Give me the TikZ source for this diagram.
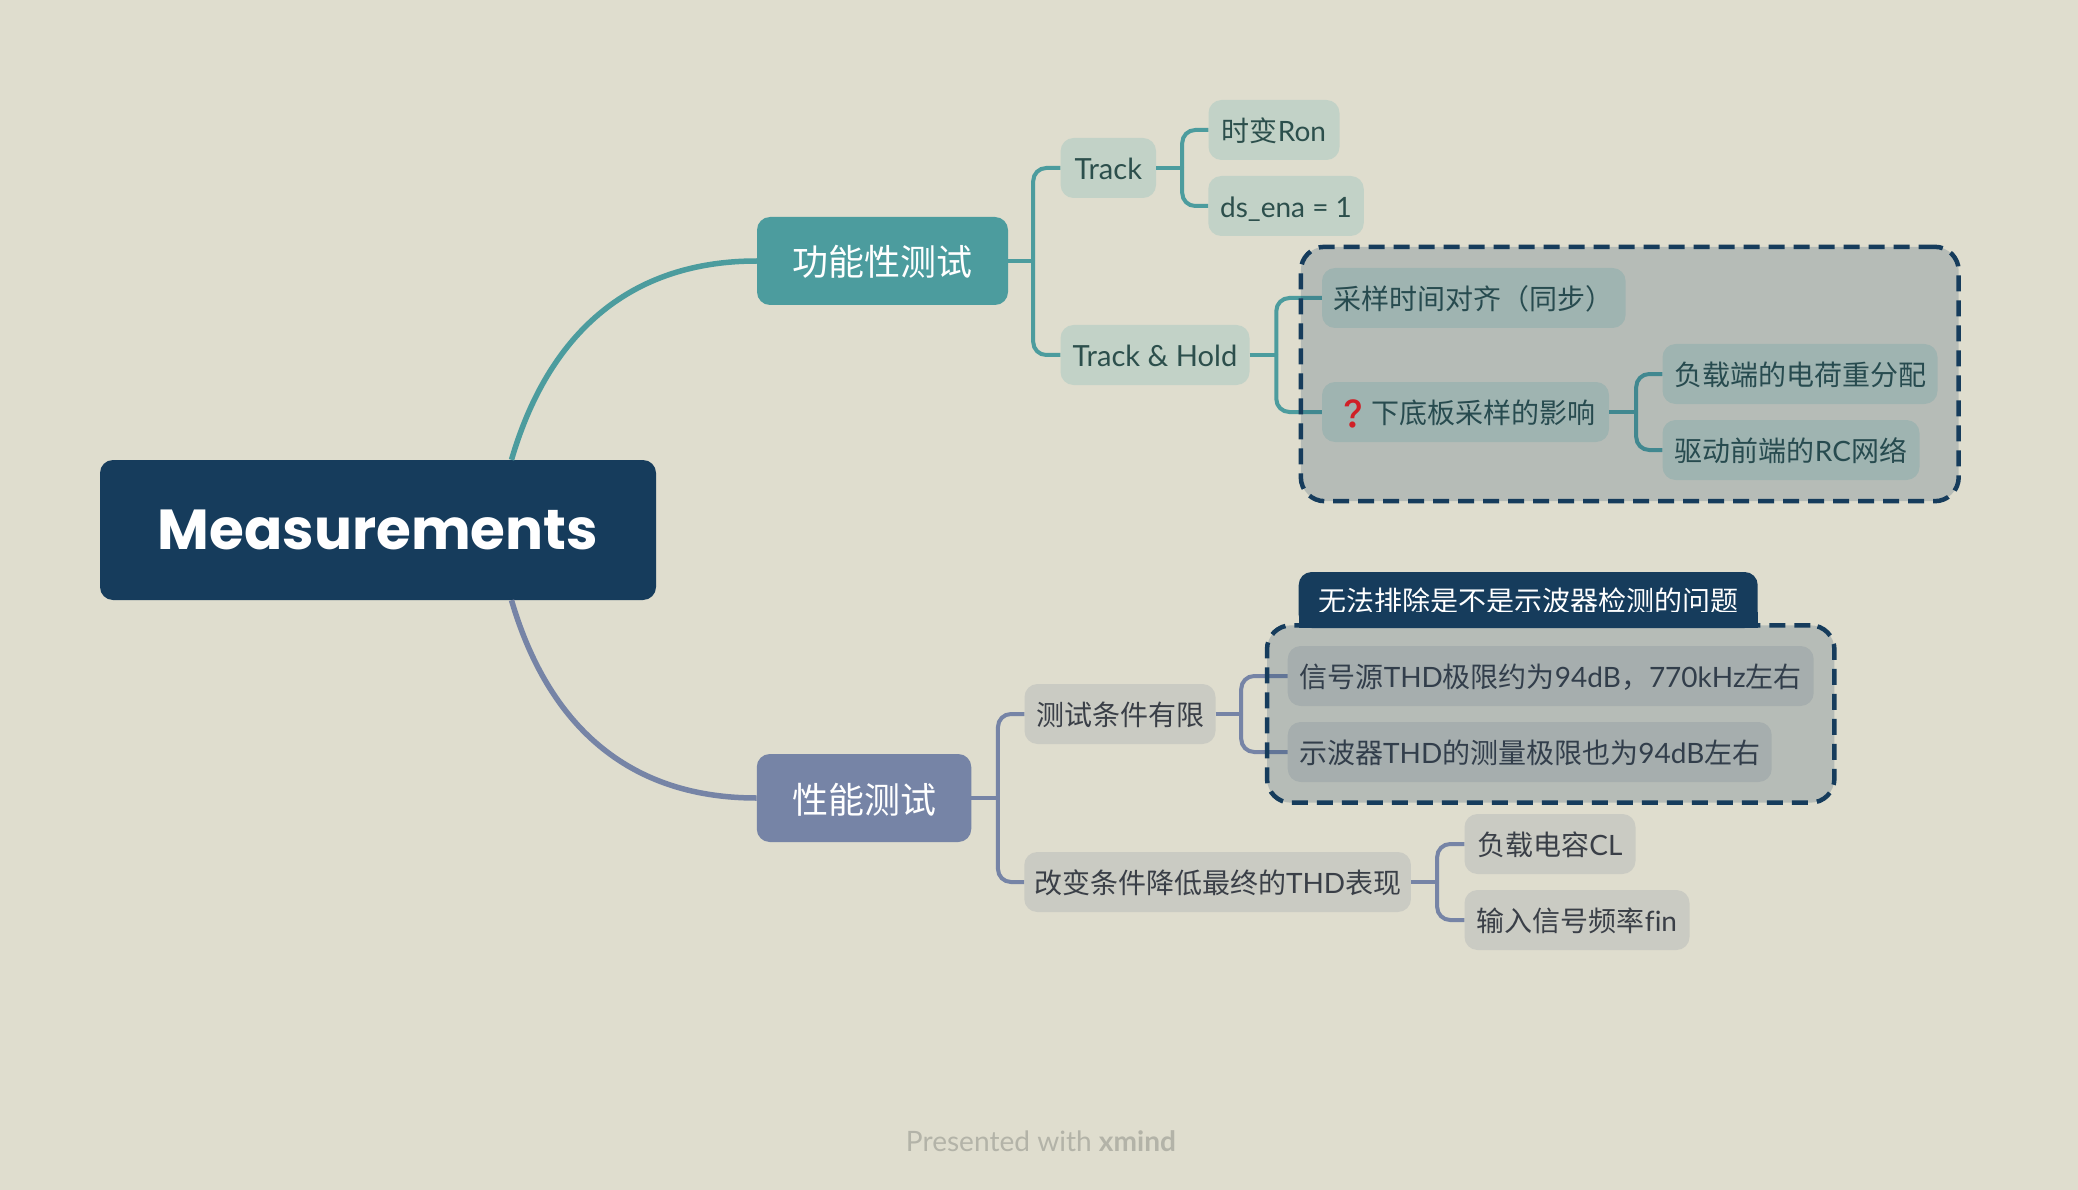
\documentclass[tikz,border=0pt]{standalone}
\usepackage{fontspec}
\setmainfont{Lato}[Ligatures=NoCommon]
\newfontfamily\wide{Lato}[Scale=1.04]
\newfontfamily\zh{Noto Sans CJK SC}
\newfontfamily\emoji{Noto Emoji}
\newfontfamily\headfont{Poppins}
\usetikzlibrary{shapes, fit, calc}
\definecolor{paper}{HTML}{DFDDCE}
\definecolor{navy}{HTML}{163C5C}
\definecolor{teal1}{HTML}{4C9C9E}
\definecolor{slate1}{HTML}{7684A6}
\definecolor{sage}{HTML}{C2D2C7}
\definecolor{stone}{HTML}{CACBC3}
\definecolor{sageink}{HTML}{2C4F4C}
\definecolor{stoneink}{HTML}{3A3F47}
\definecolor{credit}{HTML}{B3B3A8}
\definecolor{alarm}{HTML}{FF1A1A}

\begin{document}
\begin{tikzpicture}
			\tikzstyle{root}=[
			fill=navy,
			rounded corners=13pt,
			text=white,
			font=\headfont\fontsize{56.4}{66}\selectfont\bfseries,
			minimum height=140pt,
			inner sep=0pt]
			\tikzstyle{main}=[
			rounded corners=13pt,
			text=white,
			font=\fontsize{36}{44}\selectfont,
			text height=33pt,
			text depth=3pt,
			minimum height=88pt,
			inner sep=0pt]
			\tikzstyle{leaf}=[
			rounded corners=13pt,
			font=\fontsize{28}{34}\selectfont,
			text height=25.5pt,
			text depth=3pt,
			minimum height=60pt,
			inner sep=0pt]
			\tikzstyle{func}=[leaf, fill=sage, text=sageink]
			\tikzstyle{perf}=[leaf, fill=stone, text=stoneink]
			\tikzstyle{stub}=[line width=4pt]
			\tikzstyle{link}=[line width=4pt, rounded corners=13pt]
			\tikzstyle{sweep}=[line width=5.5pt]
			\tikzstyle{zone}=[
			draw=navy,
			fill=navy,
			fill opacity=0.2,
			draw opacity=1,
			line width=4.5pt,
			dash pattern=on 16pt off 9pt,
			rounded corners=24pt]
			\fill[paper] (0,0) rectangle (2078pt,-1190pt);
			\useasboundingbox (0,0) rectangle (2078pt,-1190pt);
			%
			\node[root, minimum width=556pt] (Root) at (378pt,-530pt) {Measurements};
			\node[main, fill=teal1, right of=Root, node distance=504.5pt, yshift=269pt, minimum width=251pt] (Func) {\zh 功能性测试};
			\node[main, fill=slate1, right of=Root, node distance=486pt, yshift=-268pt, minimum width=214.5pt] (Perf) {\zh 性能测试};
			%
			\node[func, right of=Func, node distance=225.8pt, yshift=93pt, minimum width=95.4pt] (Track) {\wide Track};
			\node[func, right of=Func, node distance=272.5pt, yshift=-94pt, minimum width=189pt] (Hold) {\wide Track \& Hold};
			\node[func, right of=Track, node distance=165.7pt, yshift=38pt, minimum width=131pt] (Ron) {{\zh 时变}Ron};
			\node[func, right of=Track, node distance=177.7pt, yshift=-38pt, minimum width=155.5pt] (Ena) {ds\_ena = 1};
			\node[func, right of=Hold, node distance=318.8pt, yshift=57pt, minimum width=303.6pt] (Sync) {\zh 采样时间对齐（同步）};
			\node[func, right of=Hold, node distance=310.5pt, yshift=-57pt, minimum width=287pt] (Plate) {{\emoji\textcolor{alarm}{❓}}\kern1pt{\zh 下底板采样的影响}};
			\node[func, right of=Plate, node distance=334.5pt, yshift=38pt, minimum width=275pt] (Charge) {\zh 负载端的电荷重分配};
			\node[func, right of=Plate, node distance=325.5pt, yshift=-38pt, minimum width=257pt] (Net) {{\zh 驱动前端的}RC{\zh 网络}};
			%
			\node[perf, right of=Perf, node distance=256pt, yshift=84pt, minimum width=191pt] (Cond) {\zh 测试条件有限};
			\node[perf, right of=Perf, node distance=353.6pt, yshift=-84pt, minimum width=386.7pt] (Change) {{\zh 改变条件降低最终的}THD{\zh 表现}};
			\node[perf, right of=Cond, node distance=430.7pt, yshift=38pt, minimum width=526pt] (Src) {{\zh 信号源}THD{\zh 极限约为}94dB{\zh ，}770kHz{\zh 左右}};
			\node[perf, right of=Cond, node distance=409.7pt, yshift=-38pt, minimum width=484pt] (Scope) {{\zh 示波器}THD{\zh 的测量极限也为}94dB{\zh 左右}};
			\node[perf, right of=Change, node distance=332.4pt, yshift=38pt, minimum width=171pt] (Load) {{\zh 负载电容}CL};
			\node[perf, right of=Change, node distance=359.4pt, yshift=-38pt, minimum width=225pt] (Fin) {{\zh 输入信号频率}fin};
			%
			\draw[sweep, teal1] ([xshift=133.5pt]Root.north) .. controls +(33.5pt,115pt) and +(-137pt,0pt) .. (Func.west);
			\draw[sweep, slate1] ([xshift=133.5pt]Root.south) .. controls +(33.5pt,-115pt) and +(-137pt,0pt) .. (Perf.west);
			%
			\coordinate (FuncHub) at ([xshift=25pt]Func.east);
			\coordinate (TrackHub) at ([xshift=26pt]Track.east);
			\coordinate (HoldHub) at ([xshift=26.6pt]Hold.east);
			\coordinate (PlateHub) at ([xshift=27pt]Plate.east);
			\coordinate (PerfHub) at ([xshift=26.5pt]Perf.east);
			\coordinate (CondHub) at ([xshift=25.5pt]Cond.east);
			\coordinate (ChangeHub) at ([xshift=26pt]Change.east);
			%
			\draw[stub, teal1] (Func.east) -- (FuncHub);
			\draw[link, teal1] (FuncHub) |- (Track.west);
			\draw[link, teal1] (FuncHub) |- (Hold.west);
			\draw[stub, teal1] (Track.east) -- (TrackHub);
			\draw[link, teal1] (TrackHub) |- (Ron.west);
			\draw[link, teal1] (TrackHub) |- (Ena.west);
			\draw[stub, teal1] (Hold.east) -- (HoldHub);
			\draw[link, teal1] (HoldHub) |- (Sync.west);
			\draw[link, teal1] (HoldHub) |- (Plate.west);
			\draw[stub, teal1] (Plate.east) -- (PlateHub);
			\draw[link, teal1] (PlateHub) |- (Charge.west);
			\draw[link, teal1] (PlateHub) |- (Net.west);
			\draw[stub, slate1] (Perf.east) -- (PerfHub);
			\draw[link, slate1] (PerfHub) |- (Cond.west);
			\draw[link, slate1] (PerfHub) |- (Change.west);
			\draw[stub, slate1] (Cond.east) -- (CondHub);
			\draw[link, slate1] (CondHub) |- (Src.west);
			\draw[link, slate1] (CondHub) |- (Scope.west);
			\draw[stub, slate1] (Change.east) -- (ChangeHub);
			\draw[link, slate1] (ChangeHub) |- (Load.west);
			\draw[link, slate1] (ChangeHub) |- (Fin.west);
			%
			\node[zone, inner sep=21pt, fit=(Sync)(Plate)(Charge)(Net)] (ZoneA) {};
			\node[zone, inner sep=20.5pt, fit=(Src)(Scope)] (ZoneB) {};
			%
			\node[leaf, fill=navy, text=white, above of=ZoneB, node distance=114pt, xshift=-22.5pt, minimum width=459pt, minimum height=56pt] (Tag) {\zh 无法排除是不是示波器检测的问题};
			\fill[navy] (Tag.south west) rectangle ([yshift=16pt]Tag.south east);
			%
			\node[text=credit, font=\fontsize{27}{32}\selectfont\wide] (Credit) at (1041pt,-1141pt) {Presented with \textbf{xmind}};
		\end{tikzpicture}
\end{document}
